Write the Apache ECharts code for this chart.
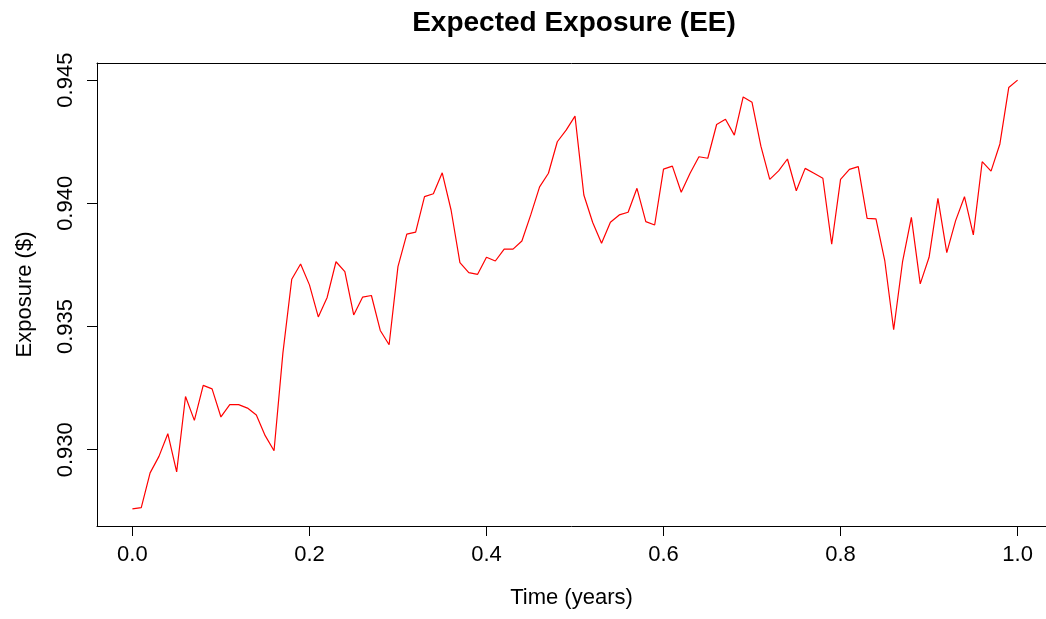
<!DOCTYPE html>
<html>
<head>
<meta charset="utf-8">
<script src="https://cdn.jsdelivr.net/npm/echarts@6/dist/echarts.min.js"></script>
<style>html,body{margin:0;padding:0;background:#fff}#c{width:1046px;height:619px}</style>
</head>
<body>
<div id="c"></div>
<script>
// Time grid (years)
const times = [];
for (let i = 0; i <= 100; i++) times.push(+(i / 100).toFixed(2));
// Expected exposure values
const exposure = [
  0.92760, 0.92765, 0.92906, 0.92973, 0.93065, 0.92910, 0.93216, 0.93119, 0.93261, 0.93247,
  0.93133, 0.93183, 0.93183, 0.93169, 0.93141, 0.93057, 0.92996, 0.93392, 0.93692, 0.93754,
  0.93669, 0.93539, 0.93618, 0.93763, 0.93723, 0.93547, 0.93619, 0.93626, 0.93484, 0.93426,
  0.93743, 0.93875, 0.93883, 0.94027, 0.94039, 0.94124, 0.93973, 0.93759, 0.93719, 0.93712,
  0.93781, 0.93766, 0.93814, 0.93814, 0.93847, 0.93953, 0.94067, 0.94122, 0.94250, 0.94297,
  0.94354, 0.94034, 0.93922, 0.93838, 0.93923, 0.93953, 0.93964, 0.94061, 0.93926, 0.93912,
  0.94139, 0.94151, 0.94045, 0.94122, 0.94189, 0.94183, 0.94320, 0.94341, 0.94277, 0.94432,
  0.94410, 0.94232, 0.94097, 0.94132, 0.94180, 0.94051, 0.94142, 0.94122, 0.94102, 0.93834,
  0.94097, 0.94138, 0.94149, 0.93939, 0.93937, 0.93766, 0.93487, 0.93762, 0.93943, 0.93673,
  0.93781, 0.94020, 0.93800, 0.93930, 0.94027, 0.93872, 0.94169, 0.94131, 0.94241, 0.94470,
  0.94500
];
const xTicks = [0, 0.2, 0.4, 0.6, 0.8, 1.0];
const yTicks = [0.930, 0.935, 0.940, 0.945];
const titleText = 'Expected Exposure (EE)';
const xName = 'Time (years)';
const yName = 'Exposure ($)';

const FONT = '"Liberation Sans", Arial, Helvetica, sans-serif';
const pairs = times.map((t, i) => [t, exposure[i]]);
const xr = [Math.min(...times), Math.max(...times)];
const yr = [Math.min(...exposure), Math.max(...exposure)];
const xpad = (xr[1] - xr[0]) * 0.04, ypad = (yr[1] - yr[0]) * 0.04;
// the plot box runs 7px past the right edge of the window; cut the x range to match
const fullW = 956, cutW = 7;
const xMin = xr[0] - xpad;
const xMax = xr[1] + xpad - (xr[1] - xr[0] + 2 * xpad) * cutW / fullW;

const frame = {show: true, lineStyle: {color: '#000', width: 1}};
const chart = echarts.init(document.getElementById('c'), null, {renderer: 'canvas'});
chart.setOption({
  animation: false,
  backgroundColor: '#ffffff',
  graphic: [{
    type: 'text', x: 574, y: 23,
    style: {text: titleText, font: 'bold 28px ' + FONT, fill: '#000', textAlign: 'center', textVerticalAlign: 'middle'}
  }],
  grid: {left: 97, top: 63, right: 0, height: 463, show: false},
  xAxis: [{
    type: 'value', min: xMin, max: xMax, position: 'bottom',
    name: xName, nameLocation: 'middle', nameGap: 61,
    nameTextStyle: {fontFamily: FONT, fontSize: 22, color: '#000'},
    axisLine: Object.assign({onZero: false}, frame),
    axisTick: {show: true, inside: false, length: 10, customValues: xTicks, lineStyle: {color: '#000', width: 1}},
    axisLabel: {customValues: xTicks, margin: 18, fontFamily: FONT, fontSize: 22, color: '#000', formatter: v => v.toFixed(1)},
    splitLine: {show: false}
  }, {
    type: 'value', min: xMin, max: xMax, position: 'top',
    axisLine: Object.assign({onZero: false}, frame),
    axisTick: {show: false}, axisLabel: {show: false}, splitLine: {show: false}
  }],
  yAxis: {
    type: 'value', min: yr[0] - ypad, max: yr[1] + ypad, position: 'left',
    name: yName, nameLocation: 'middle', nameGap: 61, nameRotate: 90,
    nameTextStyle: {fontFamily: FONT, fontSize: 22, color: '#000'},
    axisLine: Object.assign({onZero: false}, frame),
    axisTick: {show: true, inside: false, length: 10, customValues: yTicks, lineStyle: {color: '#000', width: 1}},
    axisLabel: {customValues: yTicks, rotate: 90, margin: 20, fontFamily: FONT, fontSize: 22, color: '#000', formatter: v => v.toFixed(3)},
    splitLine: {show: false}
  },
  series: [{
    type: 'line', data: pairs, xAxisIndex: 0, showSymbol: false, symbol: 'none',
    lineStyle: {color: '#ff0000', width: 1.2}, itemStyle: {color: '#ff0000'}
  }]
});
</script>
</body>
</html>
